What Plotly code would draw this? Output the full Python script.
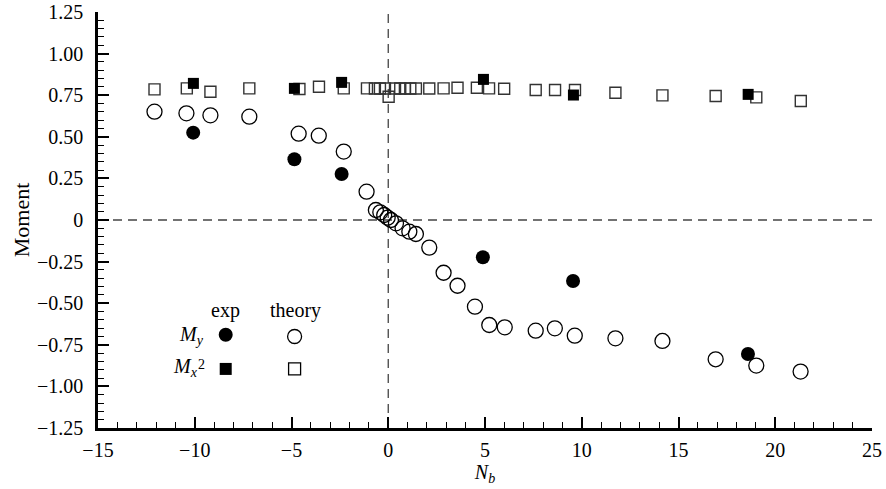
import plotly.graph_objects as go

# ---- data ----
exp_x = [-10.08, -4.85, -2.41, 4.89, 9.55, 18.59]
exp_my = [0.525, 0.365, 0.276, -0.224, -0.367, -0.805]
exp_mx2_x = [-10.07, -4.85, -2.41, 4.92, 9.57, 18.60]
exp_mx2 = [0.821, 0.791, 0.827, 0.845, 0.751, 0.755]

th_my_x = [-12.08, -10.43, -9.19, -7.18, -4.63, -3.59, -2.30, -1.12, -0.64, -0.41,
           -0.21, -0.03, 0.14, 0.40, 0.74, 1.09, 1.43, 2.12, 2.86, 3.58,
           4.48, 5.22, 6.02, 7.62, 8.61, 9.64, 11.74, 14.17, 16.92, 19.02, 21.31]
th_my = [0.651, 0.641, 0.629, 0.621, 0.519, 0.507, 0.411, 0.170, 0.060, 0.046,
         0.030, 0.014, 0.000, -0.020, -0.050, -0.070, -0.084, -0.166, -0.317, -0.395,
         -0.521, -0.631, -0.645, -0.665, -0.651, -0.695, -0.711, -0.727, -0.837, -0.875, -0.911]

th_mx2_x = [-12.08, -10.41, -9.19, -7.18, -4.59, -3.58, -2.30, -1.10, -0.69, -0.43,
            -0.17, 0.02, 0.35, 0.62, 0.86, 1.14, 1.43, 2.12, 2.86, 3.58,
            4.58, 5.21, 5.99, 7.62, 8.62, 9.65, 11.74, 14.17, 16.92, 19.02, 21.32]
th_mx2 = [0.785, 0.791, 0.771, 0.791, 0.787, 0.801, 0.791, 0.791, 0.790, 0.790,
          0.790, 0.741, 0.790, 0.790, 0.790, 0.790, 0.790, 0.790, 0.791, 0.795,
          0.795, 0.791, 0.789, 0.781, 0.781, 0.781, 0.765, 0.749, 0.745, 0.737, 0.715]

x_ticks = [-15, -10, -5, 0, 5, 10, 15, 20, 25]
y_ticks = [1.25, 1.00, 0.75, 0.50, 0.25, 0, -0.25, -0.50, -0.75, -1.00, -1.25]
y_tick_text = ["1.25", "1.00", "0.75", "0.50", "0.25", "0", "\u22120.25", "\u22120.50",
               "\u22120.75", "\u22121.00", "\u22121.25"]
x_tick_text = ["\u221215", "\u221210", "\u22125", "0", "5", "10", "15", "20", "25"]

FONT = "Liberation Serif, Times New Roman, serif"

fig = go.Figure()
fig.add_trace(go.Scatter(x=th_mx2_x, y=th_mx2, mode="markers",
                         marker=dict(symbol="square-open", size=11, color="#333333",
                                     line=dict(width=1.4, color="#333333"))))
fig.add_trace(go.Scatter(x=th_my_x, y=th_my, mode="markers",
                         marker=dict(symbol="circle-open", size=15, color="black",
                                     line=dict(width=1.3, color="black"))))
fig.add_trace(go.Scatter(x=exp_mx2_x, y=exp_mx2, mode="markers",
                         marker=dict(symbol="square", size=11, color="black",
                                     line=dict(width=0))))
fig.add_trace(go.Scatter(x=exp_x, y=exp_my, mode="markers",
                         marker=dict(symbol="circle", size=14, color="black",
                                     line=dict(width=0))))

dash = dict(color="#444444", width=1.3, dash="9px,6px")
fig.add_shape(type="line", xref="x", yref="paper", x0=0, x1=0, y0=0, y1=1, line=dash, layer="below")
fig.add_shape(type="line", xref="paper", yref="y", x0=0, x1=1, y0=0, y1=0, line=dash, layer="below")

# legend glyphs (pixel sized, anchored in paper coordinates)
def glyph(kind, xp, yp, filled, half):
    fig.add_shape(type=kind, xref="paper", yref="paper", xsizemode="pixel", ysizemode="pixel",
                  xanchor=xp, yanchor=yp, x0=-half, x1=half, y0=-half, y1=half,
                  fillcolor="black" if filled else "rgba(0,0,0,0)",
                  line=dict(color="black", width=0 if filled else 1.3))

glyph("circle", 0.165, 0.224, True, 7)
glyph("circle", 0.254, 0.220, False, 7)
glyph("rect", 0.165, 0.142, True, 6)
glyph("rect", 0.254, 0.142, False, 6)

def note(x, y, text, xanchor="center", size=20):
    fig.add_annotation(xref="paper", yref="paper", x=x, y=y, text=text, showarrow=False,
                       xanchor=xanchor, yanchor="middle", borderpad=0,
                       font=dict(family=FONT, size=size, color="black"))

note(0.165, 0.282, "exp")
note(0.2555, 0.282, "theory")
note(0.1386, 0.222, "<i>M</i><sub><i>y</i></sub>", xanchor="right")
note(0.130, 0.145, "<i>M</i><sub><i>x</i></sub>", xanchor="right")
note(0.128, 0.153, "2", xanchor="left", size=14)

axis_common = dict(showgrid=False, zeroline=False, showline=True, linecolor="black",
                   linewidth=2.5, ticks="inside", ticklen=11, tickwidth=2, tickcolor="black",
                   tickfont=dict(family=FONT, size=20, color="black"),
                   mirror=False, automargin=False)

fig.update_xaxes(range=[-15, 25], tickvals=x_ticks, ticktext=x_tick_text,
                 minor=dict(dtick=1, ticks="inside", ticklen=6, tickwidth=1.3, tickcolor="black"),
                 title=dict(text="<i>N</i><sub><i>b</i></sub>", font=dict(family=FONT, size=20),
                            standoff=6),
                 ticklabelstandoff=2,
                 **axis_common)
fig.update_yaxes(range=[-1.25, 1.25], tickvals=y_ticks, ticktext=y_tick_text,
                 minor=dict(dtick=0.05, tick0=0, ticks="inside", ticklen=6, tickwidth=1.3,
                            tickcolor="black"),
                 title=dict(text="Moment", font=dict(family=FONT, size=22), standoff=2),
                 ticklabelstandoff=8,
                 **axis_common)

fig.update_layout(width=886, height=489, plot_bgcolor="white", paper_bgcolor="white",
                  showlegend=False, margin=dict(l=98, r=14, t=12, b=61),
                  font=dict(family=FONT, color="black"))

# remove the default 8px body margin so the figure fills the window exactly
fig.write_html("out.html", config={"displayModeBar": False},
               post_script="document.body.style.margin='0';")
